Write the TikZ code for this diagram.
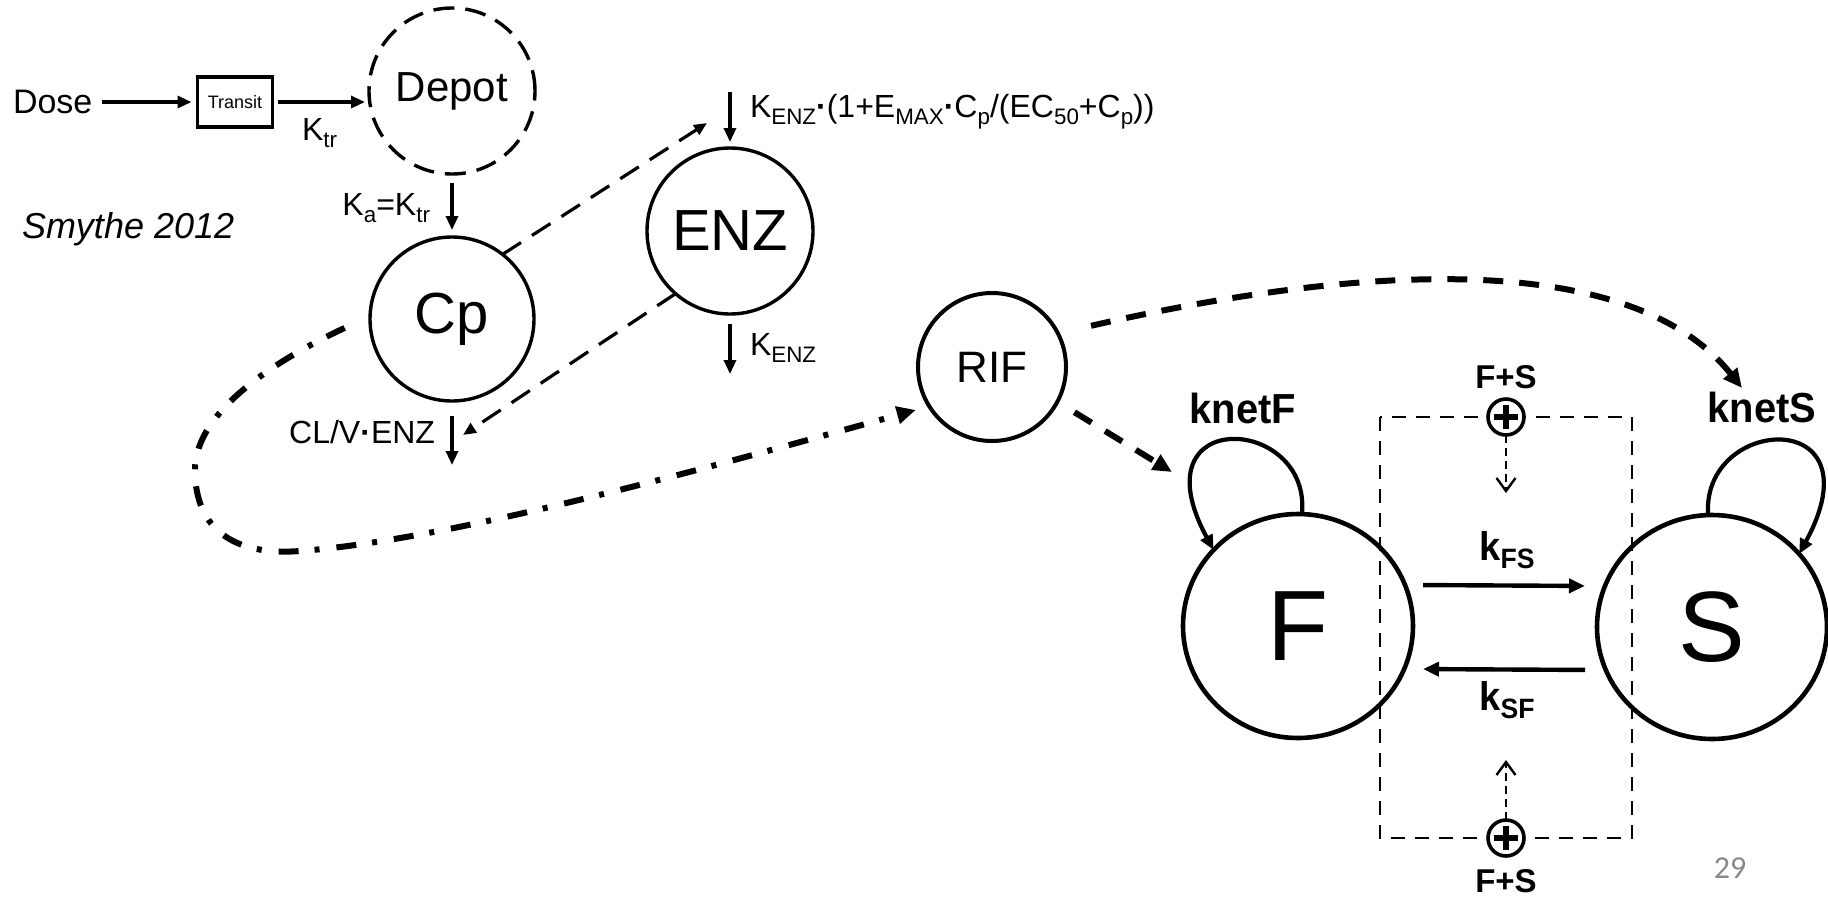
\documentclass[tikz,border=0pt]{standalone}
\usepackage{fontspec}
\setmainfont{Liberation Sans}
\newfontfamily\pagenumfont{Carlito}
\usepackage{graphicx}
\usetikzlibrary{arrows.meta,shapes.geometric}
\newcommand{\fsz}[1]{\fontsize{#1}{#1}\selectfont}
\newcommand{\sbs}[1]{\raisebox{-0.22em}{\scalebox{0.7}{#1}}}
\newcommand{\cond}[1]{\scalebox{0.95}[1]{#1}}
\definecolor{numgray}{RGB}{137,137,137}
\begin{document}
\begin{tikzpicture}[x=0.5pt,y=-0.5pt,
  every node/.style={inner sep=0pt,outer sep=0pt},
  comp/.style={circle,draw,line width=1.7pt,inner sep=0pt},
  bigcomp/.style={ellipse,draw,line width=2.3pt,minimum width=115pt,minimum height=112pt,font=\fsz{50}},
  lbl/.style={font=\fsz{16}},
  blbl/.style={font=\fsz{21}\bfseries},
  arr/.style={line width=1.6pt,-{Triangle[length=7pt,width=6pt]}},
  karr/.style={line width=2.2pt,-{Triangle[length=8pt,width=7pt]}},
  thindash/.style={line width=1.6pt,dash pattern=on 11pt off 6.5pt,-{Triangle[length=6.5pt,width=5.5pt]}},
  thickdash/.style={line width=3pt,dash pattern=on 10pt off 8pt,-{Triangle[length=9.5pt,width=8.5pt]}},
  dashdot/.style={line width=3pt,dash pattern=on 10pt off 8pt on 2.5pt off 8.5pt,-{Triangle[length=9.5pt,width=8.5pt]}},
  selfloop/.style={line width=2.1pt,-{Triangle[length=7.5pt,width=6.5pt]}},
  rectdash/.style={line width=1.4pt,dash pattern=on 7pt off 5pt},
  smalldash/.style={line width=1.2pt,dash pattern=on 4pt off 2.5pt,-{Straight Barb[length=6.5pt,width=9.5pt,line width=1.2pt]}},
  oplus/.style={circle,draw,fill=white,line width=1.8pt,minimum size=18pt,
    path picture={\draw[line width=2.6pt]
      ([xshift=-6pt]path picture bounding box.center) -- ([xshift=6pt]path picture bounding box.center)
      ([yshift=-6pt]path picture bounding box.center) -- ([yshift=6pt]path picture bounding box.center);}},
  fs/.style={font=\fsz{16.5}\bfseries}
]
\useasboundingbox[fill=white] (0,0) rectangle (1828,896);

% --- PK part ---
\node[font=\fsz{17}, anchor=base west] (dose) at (13,113) {Dose};
\node[draw,line width=1.8pt,minimum width=37.5pt,minimum height=25pt,font=\fsz{9}] (transit) at (235,102) {Transit};
\node[comp,dashed,dash pattern=on 10.5pt off 5.5pt,minimum size=83pt,font=\fsz{21}] (depot) at (452,91) {Depot};
\node[lbl,anchor=base west] (ktr) at (302,140) {K\sbs{tr}};
\node[font=\fsz{18}\itshape,anchor=base west] (smythe) at (22,238) {Smythe 2012};
\node[comp,minimum size=82pt,font=\fsz{29}] (cp) at (452,319) {Cp};
\node[lbl,anchor=base east] (ka) at (430,215) {K\sbs{a}=K\sbs{tr}};
\node[comp,minimum size=83pt,font=\fsz{29}] (enz) at (730,231) {ENZ};
\node[lbl,anchor=base west] (kin) at (750,117) {K\sbs{ENZ}\textbf{·}(1+E\sbs{MAX}\textbf{·}C\sbs{p}/(EC\sbs{50}+C\sbs{p}))};
\node[lbl,anchor=base west] (kout) at (750,355) {K\sbs{ENZ}};
\node[lbl,anchor=base east] (cl) at (435,443) {CL/V\textbf{·}ENZ};
\node[comp,line width=2pt,minimum size=74pt,font=\fsz{22}] (rif) at (992,367) {RIF};

\coordinate (enzin) at (707,123);
\coordinate (clin) at (463,435);
\coordinate (enzsrc) at (730,92);
\coordinate (enzsink) at (730,374);
\coordinate (cpsink) at (452,465);

\draw[arr,shorten <=5pt,shorten >=3pt] (dose.east |- transit) -- (transit);
\draw[arr,shorten <=2.5pt,shorten >=2pt] (transit) -- (transit -| depot.west);
\draw[arr,shorten <=4.5pt,shorten >=3.5pt] (depot) -- (cp);
\draw[thindash] (cp.52) -- (enzin);
\draw[thindash] (enz.229) -- (clin);
\draw[arr,shorten >=3pt] (enzsrc) -- (enz);
\draw[arr,shorten <=5pt] (enz) -- (enzsink);
\draw[arr,shorten <=7.5pt] (cp) -- (cpsink);

\draw[dashdot,shorten <=14pt,shorten >=7pt] (cp.178) .. controls (280,358) and (195,410) .. (195,470)
  .. controls (195,530) and (235,556) .. (300,551)
  .. controls (450,540) and (700,470) .. (rif.212);

% --- PD part ---
\node[bigcomp] (F) at (1298,626) {F};
\node[bigcomp] (S) at (1712,627) {S};
\node[blbl,anchor=base] (knetf) at (1243,423) {\cond{knetF}};
\node[blbl,anchor=base] (knets) at (1762,422) {\cond{knetS}};

\coordinate (snet) at (1742,388);
\coordinate (fnet) at (1172,472);
\draw[thickdash,shorten <=17pt] (rif.27) .. controls (1400,255) and (1640,260) .. (snet);
\draw[thickdash,shorten <=10pt] (rif.-28) -- (fnet);

\draw[selfloop] (F.88) .. controls (1312,415) and (1135,405) .. (F.138);
\draw[selfloop] (S.92) .. controls (1701,415) and (1880,405) .. (S.40);

\draw[karr,shorten <=5pt,shorten >=6pt] ([yshift=20.5pt]F.east) -- ([yshift=20.5pt]S.west);
\draw[karr,shorten <=6pt,shorten >=5pt] ([yshift=-21.5pt]S.west) -- ([yshift=-21.5pt]F.east);
\node[font=\fsz{20}\bfseries,anchor=base] (kfs) at (1507,560) {\cond{k\sbs{FS}}};
\node[font=\fsz{20}\bfseries,anchor=base] (ksf) at (1507,710) {\cond{k\sbs{SF}}};

\draw[rectdash] (1380,417) rectangle (1632,838);
\node[oplus] (op1) at (1506,417) {};
\node[oplus] (op2) at (1506,838) {};
\node[fs,anchor=base] (fs1) at (1506,388) {F+S};
\node[fs,anchor=base] (fs2) at (1506,892) {F+S};
\coordinate (op1t) at (1506,493);
\coordinate (op2t) at (1506,760);
\draw[smalldash] (op1) -- (op1t);
\draw[smalldash] (op2) -- (op2t);

\node[font=\pagenumfont\fsz{16},text=numgray,anchor=base] (pg) at (1730,878) {29};
\end{tikzpicture}
\end{document}
